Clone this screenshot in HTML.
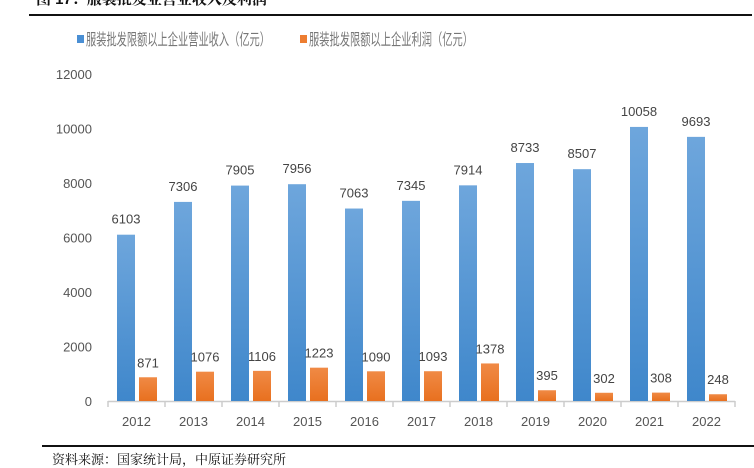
<!DOCTYPE html>
<html><head><meta charset="utf-8"><style>
body{margin:0;background:#fff;width:754px;height:468px;overflow:hidden;font-family:"Liberation Sans","Noto Sans CJK SC",sans-serif}
</style></head><body>
<svg width="754" height="468" style="position:absolute;left:0;top:0">
<defs>
<linearGradient id="gb" x1="0" y1="0" x2="0" y2="1"><stop offset="0" stop-color="#6ea6dc"/><stop offset="1" stop-color="#3f87cb"/></linearGradient>
<linearGradient id="go" x1="0" y1="0" x2="0" y2="1"><stop offset="0" stop-color="#f08a45"/><stop offset="1" stop-color="#e8701f"/></linearGradient>
</defs>
<text x="36" y="4" font-size="15" font-weight="bold" fill="#111" font-family="Liberation Sans,Noto Serif CJK SC,serif">图 17：服装批发业营业收入及利润</text>
<line x1="29" y1="15" x2="752" y2="15" stroke="#111" stroke-width="2"/>
<g font-size="16" fill="#777">
<rect x="77" y="35" width="7" height="8" fill="#4a8fd4"/>
<text x="86" y="45" textLength="184" lengthAdjust="spacingAndGlyphs">服装批发限额以上企业营业收入（亿元）</text>
<rect x="300" y="35" width="7" height="8" fill="#ed7d31"/>
<text x="309" y="45" textLength="164" lengthAdjust="spacingAndGlyphs">服装批发限额以上企业利润（亿元）</text>
</g>
<g id="plot"></g>
<line x1="42" y1="446" x2="754" y2="446" stroke="#111" stroke-width="2"/>
<text x="52" y="464" font-size="13" fill="#111" font-family="Liberation Serif,Noto Serif CJK SC,serif">资料来源：国家统计局，中原证券研究所</text>
</svg>
<script>
const years=["2012","2013","2014","2015","2016","2017","2018","2019","2020","2021","2022"];
const revenue=[6103,7306,7905,7956,7063,7345,7914,8733,8507,10058,9693];
const profit=[871,1076,1106,1223,1090,1093,1378,395,302,308,248];
const yTicks=[0,2000,4000,6000,8000,10000,12000];
const NS="http://www.w3.org/2000/svg";
const g=document.getElementById("plot");
const x0=108,x1=735,y0=401,yTop=74,yMax=12000;
const step=(x1-x0)/years.length;
const yS=v=>y0-(y0-yTop)*v/yMax;
function mk(t,a,txt){const e=document.createElementNS(NS,t);for(const k in a)e.setAttribute(k,a[k]);if(txt!=null)e.textContent=txt;g.appendChild(e);return e;}
yTicks.forEach(v=>{
 const e=mk("text",{x:92,y:yS(v)+5,"font-size":13,fill:"#555","text-anchor":"end"},String(v));
 
 
});
const ax=mk("line",{x1:x0,y1:y0+0.5,x2:x1,y2:y0+0.5,stroke:"#ccc","stroke-width":1.5});


for(let i=0;i<=years.length;i++){
 const t=mk("line",{x1:x0+i*step,y1:y0,x2:x0+i*step,y2:y0+6,stroke:"#ccc","stroke-width":1.5});
 
 
}
years.forEach((yr,i)=>{
 const bx=x0+i*step;
 const b=mk("rect",{x:bx+9,y:yS(revenue[i]),width:18,height:y0-yS(revenue[i]),fill:"url(#gb)"});
 
 
 const o=mk("rect",{x:bx+31,y:yS(profit[i]),width:18,height:y0-yS(profit[i]),fill:"url(#go)"});
 
 
 const l1=mk("text",{x:bx+18,y:yS(revenue[i])-11,"font-size":13,fill:"#444","text-anchor":"middle"},String(revenue[i]));
 
 
 const l2=mk("text",{x:bx+40,y:yS(profit[i])-10,"font-size":13,fill:"#444","text-anchor":"middle"},String(profit[i]));
 
 
 const xl=mk("text",{x:bx+step/2,y:426,"font-size":13,fill:"#555","text-anchor":"middle"},yr);
 
 
});
</script>
</body></html>
